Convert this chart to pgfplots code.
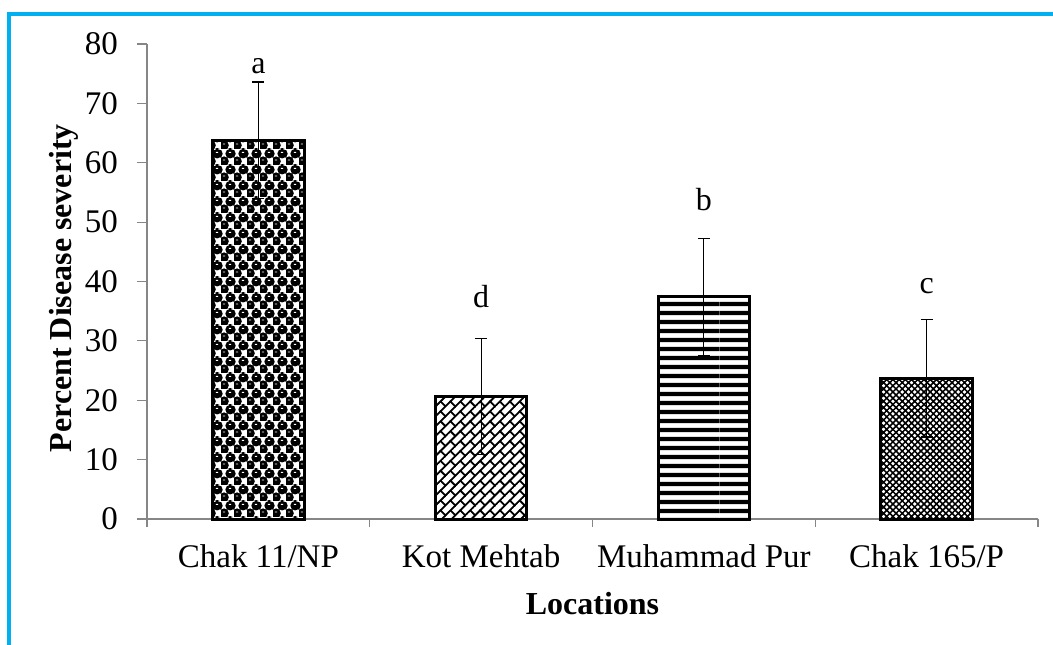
\documentclass[border=0pt]{standalone}
\usepackage{fontspec}
\setmainfont{Liberation Serif}
\usepackage{pgfplots}
\pgfplotsset{compat=1.18}
\usetikzlibrary{patterns,patterns.meta}
\definecolor{framecyan}{RGB}{0,176,240}
\definecolor{axgray}{RGB}{134,134,134}

\pgfdeclarepattern{
  name=circlechecker,
  type=colored,
  bottom left={\pgfpoint{0pt}{0pt}},
  top right={\pgfpoint{6.5pt}{8pt}},
  tile size={\pgfpoint{6.5pt}{8pt}},
  code={
    \pgfsetfillcolor{black}
    \pgfpathcircle{\pgfpoint{1.625pt}{2pt}}{2.55pt}
    \pgfpathcircle{\pgfpoint{4.875pt}{6pt}}{2.55pt}
    \pgfpathcircle{\pgfpoint{4.875pt}{-2pt}}{2.55pt}
    \pgfpathcircle{\pgfpoint{-1.625pt}{6pt}}{2.55pt}
    \pgfusepath{fill}
    \pgfsetfillcolor{white}
    \pgfpathrectangle{\pgfpoint{1.0pt}{2.4pt}}{\pgfpoint{1.2pt}{0.5pt}}
    \pgfpathrectangle{\pgfpoint{4.25pt}{6.4pt}}{\pgfpoint{1.2pt}{0.5pt}}
    \pgfusepath{fill}
  }
}
\pgfdeclarepattern{
  name=diagbricks,
  type=uncolored,
  bottom left={\pgfpoint{-0.5pt}{-0.5pt}},
  top right={\pgfpoint{7.5pt}{7.5pt}},
  tile size={\pgfpoint{7pt}{7pt}},
  tile transformation={\pgftransformrotate{45}},
  code={
    \pgfsetlinewidth{0.9pt}
    \pgfpathmoveto{\pgfpoint{-0.5pt}{0pt}}\pgfpathlineto{\pgfpoint{7.5pt}{0pt}}
    \pgfpathmoveto{\pgfpoint{-0.5pt}{3.5pt}}\pgfpathlineto{\pgfpoint{7.5pt}{3.5pt}}
    \pgfpathmoveto{\pgfpoint{0pt}{0pt}}\pgfpathlineto{\pgfpoint{0pt}{3.5pt}}
    \pgfpathmoveto{\pgfpoint{3.5pt}{3.5pt}}\pgfpathlineto{\pgfpoint{3.5pt}{7pt}}
    \pgfusepath{stroke}
  }
}
\pgfdeclarepattern{
  name=thickhlines,
  type=uncolored,
  bottom left={\pgfpoint{0pt}{0pt}},
  top right={\pgfpoint{60pt}{4.3pt}},
  tile size={\pgfpoint{60pt}{4.3pt}},
  code={
    \pgfpathrectangle{\pgfpoint{0pt}{1pt}}{\pgfpoint{60pt}{2.2pt}}
    \pgfusepath{fill}
  }
}
\pgfdeclarepattern{
  name=finecross,
  type=uncolored,
  bottom left={\pgfpoint{-0.5pt}{-0.5pt}},
  top right={\pgfpoint{2.7pt}{2.7pt}},
  tile size={\pgfpoint{2.2pt}{2.2pt}},
  tile transformation={\pgftransformrotate{45}},
  code={
    \pgfsetlinewidth{0.75pt}
    \pgfpathmoveto{\pgfpoint{-0.5pt}{0pt}}\pgfpathlineto{\pgfpoint{2.7pt}{0pt}}
    \pgfpathmoveto{\pgfpoint{0pt}{-0.5pt}}\pgfpathlineto{\pgfpoint{0pt}{2.7pt}}
    \pgfusepath{stroke}
  }
}

\begin{document}
\begin{tikzpicture}
\useasboundingbox (-73.5pt,-62.5pt) rectangle (453pt,259.5pt);
\draw[framecyan, line width=1.6pt] (-69pt,-70pt) -- (-69pt,252.5pt) -- (460pt,252.5pt);
\begin{axis}[
  at={(0pt,0pt)}, anchor=south west,
  scale only axis, width=445.5pt, height=237.5pt,
  xmin=0.5, xmax=4.5, ymin=0, ymax=80,
  ytick={0,10,...,80},
  xtick={1,2,3,4},
  xticklabels={Chak 11/NP, Kot Mehtab, Muhammad Pur, Chak 165/P},
  minor xtick={0.5,1.5,2.5,3.5,4.5},
  major x tick style={draw=none},
  axis x line*=bottom, axis y line*=left,
  axis line style={axgray, line width=0.6pt},
  tick style={axgray, line width=0.6pt},
  tick align=outside,
  major tick length=5pt, minor tick length=4pt,
  font=\rmfamily\fontsize{16pt}{19pt}\selectfont,
  /pgf/number format/assume math mode=true,
  ticklabel style={font=\rmfamily\fontsize{16.5pt}{19pt}\selectfont, black},
  yticklabel style={xshift=-6pt},
  xticklabel style={yshift=-4.5pt},
  xlabel={\textbf{Locations}},
  ylabel={\textbf{Percent Disease severity}},
  xlabel style={at={(axis description cs:0.5,-0.2)}, anchor=base},
  ylabel style={at={(axis description cs:-0.085,0.486)}, anchor=base},
  bar width=0.41,
  clip=false,
]
\addplot[ybar, bar shift=0pt, draw=black, line width=1.5pt, pattern=circlechecker,
  error bars/.cd, y dir=both, y explicit,
  error bar style={black, line width=0.6pt},
  error mark options={rotate=90, mark size=3pt, black, line width=0.6pt}]
  coordinates {(1,63.8) +- (0,9.8)};
\addplot[ybar, bar shift=0pt, draw=black, line width=1.5pt, pattern=diagbricks,
  error bars/.cd, y dir=both, y explicit,
  error bar style={black, line width=0.6pt},
  error mark options={rotate=90, mark size=3pt, black, line width=0.6pt}]
  coordinates {(2,20.6) +- (0,9.8)};
\addplot[ybar, bar shift=0pt, draw=black, line width=1.5pt, pattern=thickhlines,
  error bars/.cd, y dir=both, y explicit,
  error bar style={black, line width=0.6pt},
  error mark options={rotate=90, mark size=3pt, black, line width=0.6pt}]
  coordinates {(3,37.4) +- (0,9.8)};
\addplot[ybar, bar shift=0pt, draw=black, line width=1.5pt, pattern=finecross,
  error bars/.cd, y dir=both, y explicit,
  error bar style={black, line width=0.6pt},
  error mark options={rotate=90, mark size=3pt, black, line width=0.6pt}]
  coordinates {(4,23.7) +- (0,9.9)};
\node[anchor=base] at (axis cs:1,75.1) {a};
\node[anchor=base] at (axis cs:2,35.7) {d};
\node[anchor=base] at (axis cs:3,51.9) {b};
\node[anchor=base] at (axis cs:4,37.9) {c};
\end{axis}
\end{tikzpicture}
\end{document}
